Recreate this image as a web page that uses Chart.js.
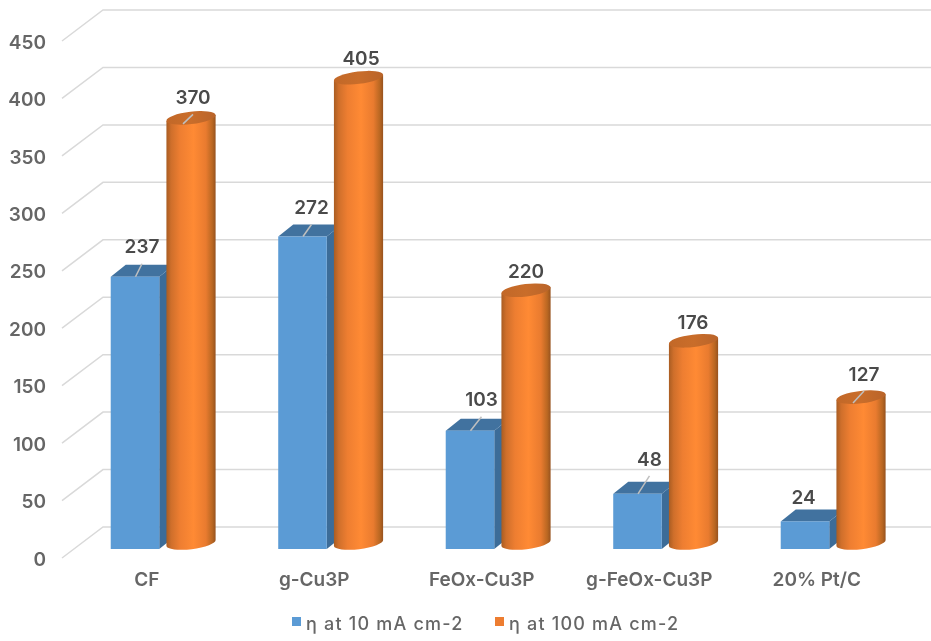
<!DOCTYPE html>
<html>
<head>
<meta charset="utf-8">
<title>Overpotential</title>
<script src="https://cdn.jsdelivr.net/npm/chart.js@4"></script>
<style>
  html, body { margin: 0; padding: 0; background: #fff; }
  canvas { display: block; }
</style>
</head>
<body>
<canvas id="chart" width="931" height="641"></canvas>
<script>
// 图表数据
const categories = ['CF', 'g-Cu3P', 'FeOx-Cu3P', 'g-FeOx-Cu3P', '20% Pt/C'];
const seriesNames = ['η at 10 mA cm-2', 'η at 100 mA cm-2'];
const eta10 = [237, 272, 103, 48, 24];
const eta100 = [370, 405, 220, 176, 127];
const yTickStep = 50;
const yMax = 450;

// 立体效果的偏移量
const FLOOR_DX = 41, FLOOR_DY = 31;
const BAR_DX = 16.5, BAR_DY = 9;
const BOX_DX = 15, BOX_DY = 12;
const FONT = 'Inter, "Liberation Sans", sans-serif';

// 数据标签相对柱顶的位置微调 [dx, dy]
const labelNudge = [
  [[6.5, -29], [8.5, -28], [11, -30], [11.5, -34], [-2, -23]],
  [[2, -25.5], [2.5, -24], [0, -24], [-0.5, -24], [3, -28]]
];

// 绘制背景墙网格线（带左侧斜线）
function drawWalls(chart) {
  const { ctx, chartArea, scales: { y } } = chart;
  ctx.save();
  ctx.strokeStyle = '#d9d9d9';
  ctx.lineWidth = 1.5;
  y.ticks.forEach(tick => {
    const py = y.getPixelForValue(tick.value);
    ctx.beginPath();
    ctx.moveTo(chartArea.left - 1, py);
    ctx.lineTo(chartArea.left - 1 + FLOOR_DX, py - FLOOR_DY);
    ctx.lineTo(chart.width, py - FLOOR_DY);
    ctx.stroke();
  });
  ctx.restore();
}

// 绘制长方体柱子
function drawBox(ctx, bar) {
  const half = bar.width / 2;
  const l = bar.x + BAR_DX - half, r = bar.x + BAR_DX + half - 1;
  const top = bar.y - BAR_DY, base = bar.base - BAR_DY;

  ctx.fillStyle = '#3c6c98';
  ctx.beginPath();
  ctx.moveTo(r, top);
  ctx.lineTo(r + BOX_DX, top - BOX_DY);
  ctx.lineTo(r + BOX_DX, base - BOX_DY);
  ctx.lineTo(r, base);
  ctx.closePath();
  ctx.fill();

  ctx.fillStyle = '#41729f';
  ctx.beginPath();
  ctx.moveTo(l, top);
  ctx.lineTo(l + BOX_DX, top - BOX_DY);
  ctx.lineTo(r + BOX_DX, top - BOX_DY);
  ctx.lineTo(r, top);
  ctx.closePath();
  ctx.fill();

  ctx.fillStyle = '#5b9bd5';
  ctx.fillRect(l, top, r - l, base - top);
}

// 绘制圆柱形柱子
function drawCylinder(ctx, bar) {
  const rx = bar.width / 2, ry = 6.2, tilt = -0.12;
  const cx = bar.x + BAR_DX;
  const topY = bar.y - BAR_DY - 6, baseY = bar.base - BAR_DY - 6;
  const ex = rx * Math.cos(tilt), ey = rx * Math.sin(tilt);

  const body = ctx.createLinearGradient(cx - rx, 0, cx + rx, 0);
  body.addColorStop(0, '#a85c22');
  body.addColorStop(0.1, '#cf6f2b');
  body.addColorStop(0.28, '#ee7e31');
  body.addColorStop(0.55, '#ff8a34');
  body.addColorStop(0.8, '#e97b2f');
  body.addColorStop(0.93, '#b96722');
  body.addColorStop(1, '#95511e');
  ctx.fillStyle = body;
  ctx.beginPath();
  ctx.moveTo(cx - ex, topY - ey);
  ctx.lineTo(cx - ex, baseY - ey);
  ctx.ellipse(cx, baseY, rx, ry, tilt, Math.PI, 0, true);
  ctx.lineTo(cx + ex, topY + ey);
  ctx.closePath();
  ctx.fill();

  const cap = ctx.createLinearGradient(cx - rx, 0, cx + rx, 0);
  cap.addColorStop(0, '#c26828');
  cap.addColorStop(0.5, '#c96d2a');
  cap.addColorStop(1, '#b9642a');
  ctx.fillStyle = cap;
  ctx.beginPath();
  ctx.ellipse(cx, topY, rx, ry, tilt, 0, Math.PI * 2);
  ctx.fill();
}

// 绘制数据标签和引导线
function drawValueLabels(chart) {
  const { ctx } = chart;
  ctx.save();
  ctx.font = '600 19px ' + FONT;
  ctx.textAlign = 'center';
  ctx.textBaseline = 'middle';
  chart.data.datasets.forEach((dataset, di) => {
    chart.getDatasetMeta(di).data.forEach((bar, i) => {
      const top = bar.y - BAR_DY;
      const cx = bar.x + BAR_DX;
      const lx = cx + labelNudge[di][i][0];
      const ly = top + labelNudge[di][i][1];
      // 柱子太矮时不画引导线
      if (ly + 16 < top - 8) {
        ctx.strokeStyle = '#bfbfbf';
        ctx.lineWidth = 1.5;
        ctx.beginPath();
        ctx.moveTo(di === 0 ? cx : cx - 8, top);
        ctx.lineTo(lx, ly + 16);
        ctx.stroke();
      }
      ctx.fillStyle = '#4a4a4a';
      ctx.fillText(dataset.data[i], lx, ly);
    });
  });
  ctx.restore();
}

// 绘制底部图例
function drawLegend(chart) {
  const { ctx } = chart;
  const boxes = [292, 495];
  ctx.save();
  ctx.font = '500 18px ' + FONT;
  ctx.letterSpacing = '1.2px';
  ctx.textAlign = 'left';
  ctx.textBaseline = 'middle';
  chart.data.datasets.forEach((dataset, di) => {
    ctx.fillStyle = dataset.backgroundColor;
    ctx.fillRect(boxes[di], 617, 9, 9);
    ctx.fillStyle = '#666666';
    ctx.fillText(dataset.label, boxes[di] + 14, 625);
  });
  ctx.restore();
}

const bars3d = {
  id: 'bars3d',
  beforeDatasetsDraw: drawWalls,
  // 默认的平面柱子不画，统一在下面画立体柱子
  beforeDatasetDraw: () => false,
  afterDatasetsDraw(chart) {
    const { ctx } = chart;
    ctx.save();
    chart.getDatasetMeta(0).data.forEach(bar => drawBox(ctx, bar));
    chart.getDatasetMeta(1).data.forEach(bar => drawCylinder(ctx, bar));
    ctx.restore();
    drawValueLabels(chart);
    drawLegend(chart);
  }
};

new Chart(document.getElementById('chart').getContext('2d'), {
  type: 'bar',
  data: {
    labels: categories,
    datasets: [
      { label: seriesNames[0], data: eta10, backgroundColor: '#5b9bd5' },
      { label: seriesNames[1], data: eta100, backgroundColor: '#ed7d31' }
    ]
  },
  options: {
    responsive: false,
    animation: false,
    categoryPercentage: 0.663,
    barPercentage: 0.892,
    layout: { padding: { top: 41, right: 30.5, bottom: 38, left: 0 } },
    scales: {
      x: {
        grid: { display: false },
        border: { display: false },
        afterFit(scale) { scale.height = 45; },
        ticks: {
          padding: 3,
          maxRotation: 0,
          color: '#666666',
          font: { family: FONT, size: 19, weight: '600' }
        }
      },
      y: {
        min: 0,
        max: yMax,
        grid: { display: false },
        border: { display: false },
        afterFit(scale) { scale.width = 63; },
        ticks: {
          stepSize: yTickStep,
          padding: 9,
          labelOffset: 2,
          color: '#666666',
          font: { family: FONT, size: 19, weight: '600' }
        }
      }
    },
    plugins: {
      legend: { display: false },
      tooltip: { enabled: false }
    }
  },
  plugins: [bars3d]
});
</script>
</body>
</html>
